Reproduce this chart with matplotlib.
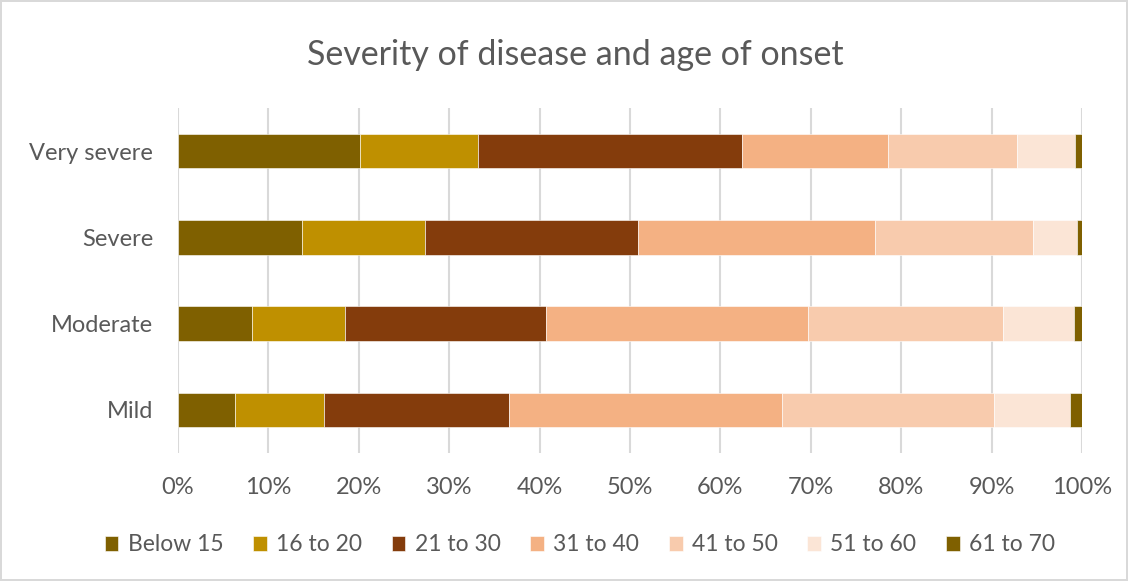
import matplotlib
matplotlib.use("Agg")
import matplotlib.pyplot as plt
import numpy as np

plt.rcParams['font.family'] = ['Lato', 'DejaVu Sans']

# Severity categories (bottom to top as drawn)
categories = ['Mild', 'Moderate', 'Severe', 'Very severe']

# age-of-onset groups and their share (%) per severity
age_groups = ['Below 15', '16 to 20', '21 to 30', '31 to 40', '41 to 50', '51 to 60', '61 to 70']
below_15 = [6.3, 8.2, 13.7, 20.1]
age_16_20 = [9.9, 10.3, 13.6, 13.1]
age_21_30 = [20.4, 22.2, 23.6, 29.2]
age_31_40 = [30.2, 29.0, 26.2, 16.1]
age_41_50 = [23.5, 21.6, 17.5, 14.3]
age_51_60 = [8.4, 7.8, 4.8, 6.4]
age_61_70 = [1.3, 0.9, 0.6, 0.8]

colors = ['#7F6000', '#BF9000', '#843C0C', '#F4B183', '#F8CBAD', '#FBE5D6', '#7F6000']

fig = plt.figure(figsize=(11.28, 5.81), dpi=100)
fig.patch.set_edgecolor('#D9D9D9')
fig.patch.set_linewidth(1.5)
ax = fig.add_axes([0.1578, 0.2203, 0.8014, 0.5938])

series = [below_15, age_16_20, age_21_30, age_31_40, age_41_50, age_51_60, age_61_70]
y = np.arange(len(categories))
left = np.zeros(len(categories))
for name, vals, c in zip(age_groups, series, colors):
    vals = np.array(vals)
    ax.barh(y, vals, left=left, height=0.4, color=c, label=name,
            edgecolor='white', linewidth=0.4, zorder=3)
    left += vals

ax.set_xlim(0, 100)
ax.set_ylim(-0.5, 3.5)
ax.set_xticks(np.arange(0, 101, 10))
ax.set_xticklabels([f'{v}%' for v in range(0, 101, 10)])
ax.set_yticks(y)
ax.set_yticklabels(categories)
ax.tick_params(axis='both', length=0, labelsize=17, colors='#595959')
ax.tick_params(axis='y', pad=18)
ax.tick_params(axis='x', pad=17)
ax.grid(axis='x', color='#D9D9D9', linewidth=1.5, zorder=0)
for s in ax.spines.values():
    s.set_visible(False)

fig.suptitle('Severity of disease and age of onset', x=0.51, y=0.933, fontsize=24.5, color='#595959')

leg = fig.legend(loc='center', bbox_to_anchor=(0.514, 0.062), ncol=7, frameon=False,
                 fontsize=16.5, handlelength=0.6, handleheight=0.6, handletextpad=0.4,
                 columnspacing=1.3)
for t in leg.get_texts():
    t.set_color('#595959')

fig.savefig('out.png', dpi=100)
